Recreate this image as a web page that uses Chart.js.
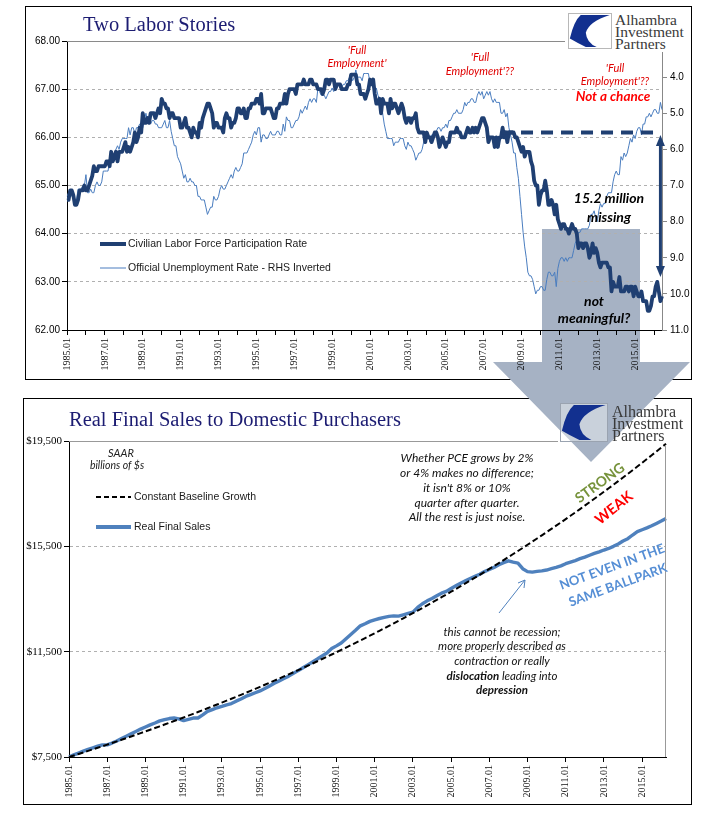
<!DOCTYPE html>
<html>
<head>
<meta charset="utf-8">
<script src="https://cdn.jsdelivr.net/npm/chart.js@4.4.1/dist/chart.umd.min.js"></script>
<style>
  body { margin: 0; background: #fff; width: 705px; height: 817px; position: relative; overflow: hidden; }
  .frame { position: absolute; border: 1.5px solid #000; box-sizing: border-box; z-index: 0; }
  #bigArrow { position: absolute; left: 0; top: 0; z-index: 1; }
  canvas { position: absolute; z-index: 2; }
  .logo { position: absolute; z-index: 3; }
</style>
</head>
<body>
<div class="frame" style="left:25px;top:6px;width:667px;height:374px"></div>
<div class="frame" style="left:23px;top:398px;width:669px;height:407px"></div>

<svg id="bigArrow" width="705" height="817">
  <polygon points="542,229 640,229 640,362 690,362 591,462 493,362 542,362" fill="#a6b2c4"/>
</svg>

<canvas id="labor" width="667" height="374" style="left:25px;top:6px"></canvas>
<canvas id="sales" width="669" height="407" style="left:23px;top:398px"></canvas>

<svg class="logo" style="left:565px;top:9px" width="126" height="43">
  <rect x="0" y="0" width="126" height="43" fill="#fff"/>
  <rect x="3.5" y="4.5" width="43" height="35" fill="#fff" stroke="#b8b8b8"/>
  <svg x="4" y="5" width="42" height="34" viewBox="0 0 100 100" preserveAspectRatio="none">
    <path d="M2,72 Q12,20 28,3 L97,3 Q48,22 40,55 Q42,85 66,97 L40,97 Q20,85 2,72 Z" fill="#12308f"/>
  </svg>
  <g font-family="'Liberation Serif', serif" font-size="15.5" fill="#3a3a3a">
    <text x="50" y="16">Alhambra</text>
    <text x="50" y="28">Investment</text>
    <text x="50" y="40">Partners</text>
  </g>
</svg>

<svg class="logo" style="left:556px;top:400px" width="132" height="46">
  <rect x="4.5" y="3.5" width="47" height="38" fill="rgba(255,255,255,0.4)" stroke="#9aa3b0"/>
  <svg x="5" y="4" width="46" height="37" viewBox="0 0 100 100" preserveAspectRatio="none">
    <path d="M2,72 Q12,20 28,3 L97,3 Q48,22 40,55 Q42,85 66,97 L40,97 Q20,85 2,72 Z" fill="#12308f"/>
  </svg>
  <g font-family="'Liberation Serif', serif" font-size="16" fill="#3a3a3a">
    <text x="56" y="17">Alhambra</text>
    <text x="56" y="29">Investment</text>
    <text x="56" y="41">Partners</text>
  </g>
</svg>

<script>
// ---- Two Labor Stories: monthly 1985.01 - 2016.06 ----
const lfpr = [
  64.7, 64.7, 64.9, 64.9, 64.8, 64.6, 64.6, 64.7, 64.9, 64.9, 64.9, 65.0,
  64.9, 64.9, 65.0, 65.1, 65.2, 65.4, 65.3, 65.3, 65.4, 65.4, 65.4, 65.4,
  65.4, 65.5, 65.5, 65.4, 65.7, 65.5, 65.6, 65.7, 65.5, 65.7, 65.7, 65.7,
  65.8, 65.9, 65.7, 65.8, 65.7, 65.8, 65.9, 66.1, 65.9, 66.0, 66.2, 66.1,
  66.5, 66.3, 66.3, 66.4, 66.3, 66.5, 66.5, 66.5, 66.4, 66.5, 66.6, 66.5,
  66.8, 66.7, 66.7, 66.6, 66.6, 66.4, 66.5, 66.5, 66.4, 66.4, 66.4, 66.4,
  66.2, 66.2, 66.3, 66.4, 66.2, 66.2, 66.1, 66.0, 66.2, 66.1, 66.1, 66.0,
  66.3, 66.2, 66.4, 66.5, 66.6, 66.7, 66.7, 66.6, 66.5, 66.2, 66.3, 66.3,
  66.2, 66.2, 66.2, 66.1, 66.4, 66.5, 66.4, 66.4, 66.2, 66.3, 66.3, 66.4,
  66.6, 66.6, 66.5, 66.5, 66.6, 66.4, 66.4, 66.6, 66.6, 66.7, 66.7, 66.7,
  66.8, 66.8, 66.7, 66.9, 66.5, 66.5, 66.6, 66.6, 66.6, 66.6, 66.5, 66.4,
  66.4, 66.6, 66.6, 66.7, 66.7, 66.7, 66.9, 66.7, 66.9, 67.0, 67.0, 67.0,
  67.0, 66.9, 67.1, 67.1, 67.1, 67.1, 67.2, 67.1, 67.1, 67.1, 67.2, 67.2,
  67.1, 67.1, 67.1, 67.0, 67.0, 67.0, 66.9, 67.0, 67.2, 67.2, 67.1, 67.2,
  67.2, 67.2, 67.0, 67.1, 67.1, 67.1, 67.0, 67.0, 67.0, 67.0, 67.1, 67.1,
  67.3, 67.3, 67.3, 67.3, 67.1, 67.1, 66.9, 66.9, 66.9, 66.8, 66.9, 67.0,
  67.2, 67.1, 67.2, 66.9, 66.7, 66.7, 66.8, 66.5, 66.8, 66.7, 66.7, 66.7,
  66.5, 66.8, 66.6, 66.7, 66.7, 66.6, 66.5, 66.6, 66.7, 66.6, 66.4, 66.3,
  66.4, 66.4, 66.3, 66.4, 66.4, 66.5, 66.2, 66.1, 66.1, 66.1, 66.1, 65.9,
  66.1, 66.0, 66.0, 65.9, 66.0, 66.1, 66.1, 66.0, 65.8, 65.9, 66.0, 65.9,
  65.8, 65.9, 65.9, 66.1, 66.1, 66.1, 66.1, 66.2, 66.1, 66.1, 66.0, 66.0,
  66.0, 66.1, 66.2, 66.1, 66.1, 66.2, 66.1, 66.2, 66.1, 66.2, 66.3, 66.4,
  66.4, 66.3, 66.2, 65.9, 66.0, 66.0, 66.0, 65.8, 66.0, 65.8, 66.0, 66.0,
  66.2, 66.0, 66.1, 65.9, 66.1, 66.1, 66.1, 66.1, 66.0, 66.0, 65.9, 65.8,
  65.7, 65.8, 65.6, 65.7, 65.7, 65.7, 65.5, 65.4, 65.1, 65.0, 65.0, 64.6,
  64.8, 64.9, 64.9, 65.1, 64.9, 64.6, 64.6, 64.7, 64.6, 64.4, 64.6, 64.3,
  64.2, 64.1, 64.2, 64.2, 64.1, 64.1, 64.0, 64.1, 64.2, 64.1, 64.1, 64.0,
  63.7, 63.8, 63.8, 63.7, 63.8, 63.8, 63.7, 63.5, 63.6, 63.8, 63.6, 63.7,
  63.6, 63.4, 63.3, 63.4, 63.4, 63.4, 63.4, 63.3, 63.3, 62.8, 63.0, 62.9,
  62.9, 62.9, 63.1, 62.8, 62.8, 62.8, 62.9, 62.9, 62.8, 62.9, 62.9, 62.7,
  62.9, 62.8, 62.7, 62.7, 62.8, 62.6, 62.6, 62.6, 62.4, 62.4, 62.5, 62.7,
  62.7, 62.9, 63.0, 62.8, 62.6, 62.7
];

const unrate = [
  7.3, 7.2, 7.2, 7.3, 7.2, 7.4, 7.4, 7.1, 7.1, 7.1, 7.0, 7.0,
  6.7, 7.2, 7.2, 7.1, 7.2, 7.2, 7.0, 6.9, 7.0, 7.0, 6.9, 6.6,
  6.6, 6.6, 6.6, 6.3, 6.3, 6.2, 6.1, 6.0, 5.9, 6.0, 5.8, 5.7,
  5.7, 5.7, 5.7, 5.4, 5.6, 5.4, 5.4, 5.6, 5.4, 5.4, 5.3, 5.3,
  5.4, 5.2, 5.0, 5.2, 5.2, 5.3, 5.2, 5.2, 5.3, 5.3, 5.4, 5.4,
  5.4, 5.3, 5.2, 5.4, 5.4, 5.2, 5.5, 5.7, 5.9, 5.9, 6.2, 6.3,
  6.4, 6.6, 6.8, 6.7, 6.9, 6.9, 6.8, 6.9, 6.9, 7.0, 7.0, 7.3,
  7.3, 7.4, 7.4, 7.4, 7.6, 7.8, 7.7, 7.6, 7.6, 7.3, 7.4, 7.4,
  7.3, 7.1, 7.0, 7.1, 7.1, 7.0, 6.9, 6.8, 6.7, 6.8, 6.6, 6.5,
  6.6, 6.6, 6.5, 6.4, 6.1, 6.1, 6.1, 6.0, 5.9, 5.8, 5.6, 5.5,
  5.6, 5.4, 5.4, 5.8, 5.6, 5.6, 5.7, 5.7, 5.6, 5.5, 5.6, 5.6,
  5.6, 5.5, 5.5, 5.6, 5.6, 5.3, 5.5, 5.1, 5.2, 5.2, 5.4, 5.4,
  5.3, 5.2, 5.2, 5.1, 4.9, 5.0, 4.9, 4.8, 4.9, 4.7, 4.6, 4.7,
  4.6, 4.6, 4.7, 4.3, 4.4, 4.5, 4.5, 4.5, 4.6, 4.5, 4.4, 4.4,
  4.3, 4.4, 4.2, 4.3, 4.2, 4.3, 4.3, 4.2, 4.2, 4.1, 4.1, 4.0,
  4.0, 4.1, 4.0, 3.8, 4.0, 4.0, 4.0, 4.1, 3.9, 3.9, 3.9, 3.9,
  4.2, 4.2, 4.3, 4.4, 4.3, 4.5, 4.6, 4.9, 5.0, 5.3, 5.5, 5.7,
  5.7, 5.7, 5.7, 5.9, 5.8, 5.8, 5.8, 5.7, 5.7, 5.7, 5.9, 6.0,
  5.8, 5.9, 5.9, 6.0, 6.1, 6.3, 6.2, 6.1, 6.1, 6.0, 5.8, 5.7,
  5.7, 5.6, 5.8, 5.6, 5.6, 5.6, 5.5, 5.4, 5.4, 5.5, 5.4, 5.4,
  5.3, 5.4, 5.2, 5.2, 5.1, 5.0, 5.0, 4.9, 5.0, 5.0, 5.0, 4.9,
  4.7, 4.8, 4.7, 4.7, 4.6, 4.6, 4.7, 4.7, 4.5, 4.4, 4.5, 4.4,
  4.6, 4.5, 4.4, 4.5, 4.4, 4.6, 4.7, 4.6, 4.7, 4.7, 4.7, 5.0,
  5.0, 4.9, 5.1, 5.0, 5.4, 5.6, 5.8, 6.1, 6.1, 6.5, 6.8, 7.3,
  7.8, 8.3, 8.7, 9.0, 9.4, 9.5, 9.5, 9.6, 9.8, 10.0, 9.9, 9.9,
  9.8, 9.8, 9.9, 9.9, 9.6, 9.4, 9.4, 9.5, 9.5, 9.4, 9.8, 9.3,
  9.1, 9.0, 9.0, 9.1, 9.0, 9.1, 9.0, 9.0, 9.0, 8.8, 8.6, 8.5,
  8.3, 8.3, 8.2, 8.2, 8.2, 8.2, 8.2, 8.1, 7.8, 7.8, 7.7, 7.9,
  8.0, 7.7, 7.5, 7.6, 7.5, 7.5, 7.3, 7.2, 7.2, 7.2, 6.9, 6.7,
  6.6, 6.7, 6.7, 6.2, 6.3, 6.1, 6.2, 6.1, 5.9, 5.7, 5.8, 5.6,
  5.7, 5.5, 5.4, 5.4, 5.6, 5.3, 5.3, 5.1, 5.1, 5.0, 5.1, 5.0,
  4.9, 4.9, 5.0, 5.0, 4.7, 4.9
];

const laborXTicks = ['1985.01', '1987.01', '1989.01', '1991.01', '1993.01', '1995.01', '1997.01', '1999.01',
  '2001.01', '2003.01', '2005.01', '2007.01', '2009.01', '2011.01', '2013.01', '2015.01'];
const lfprTicks = [62, 63, 64, 65, 66, 67, 68];
const unrateTicks = [4, 5, 6, 7, 8, 9, 10, 11];

// ---- Real Final Sales: quarterly 1985.01 - 2016.02, billions ----
const realSales = [
  7500, 7580, 7650, 7720,   7790, 7850, 7910, 7960,   7960, 8030, 8110, 8200,
  8290, 8380, 8470, 8560,   8640, 8720, 8790, 8870,   8920, 8960, 8980, 8950,
  8880, 8930, 8980, 8980,   9100, 9230, 9300, 9370,   9420, 9480, 9530, 9620,
  9700, 9800, 9870, 9940,   10010, 10100, 10200, 10300, 10390, 10480, 10570, 10680,
  10780, 10890, 11000, 11110, 11220, 11340, 11450, 11620, 11720, 11830, 11990, 12150,
  12310, 12480, 12560, 12650, 12710, 12760, 12800, 12840, 12860, 12850, 12900, 12950,
  13000, 13180, 13320, 13430, 13520, 13620, 13720, 13790, 13900, 14000, 14100, 14190,
  14280, 14360, 14440, 14540, 14620, 14700, 14800, 14880, 14950, 14900, 14860, 14650,
  14540, 14520, 14550, 14570, 14600, 14650, 14700, 14760, 14840, 14900, 14960, 15030,
  15090, 15160, 15230, 15290, 15360, 15420, 15500, 15590, 15700, 15790, 15930, 16060,
  16130, 16200, 16280, 16370, 16460, 16560
];

const baseline = [
  7500, 7557, 7615, 7672,   7732, 7791, 7850, 7910,   7970, 8031, 8092, 8153,
  8217, 8279, 8342, 8406,   8470, 8534, 8600, 8665,   8732, 8798, 8865, 8933,
  9001, 9069, 9138, 9208,   9279, 9350, 9421, 9492,   9566, 9639, 9712, 9786,
  9861, 9936, 10012, 10088, 10165, 10242, 10320, 10399, 10479, 10559, 10639, 10720,
  10802, 10884, 10967, 11050, 11136, 11221, 11306, 11392, 11480, 11567, 11655, 11744,
  11834, 11924, 12015, 12106, 12199, 12292, 12385, 12479, 12576, 12672, 12768, 12865,
  12964, 13063, 13162, 13262, 13364, 13466, 13568, 13671, 13777, 13882, 13987, 14094,
  14202, 14310, 14419, 14528, 14641, 14752, 14865, 14978, 15093, 15208, 15323, 15440,
  15559, 15677, 15797, 15917, 16039, 16161, 16284, 16408, 16534, 16660, 16786, 16914,
  17045, 17175, 17305, 17437, 17571, 17705, 17839, 17975, 18113, 18251, 18389, 18529,
  18673, 18815, 18958, 19102, 19249, 19395
];

const salesXTicks = laborXTicks;
const salesYTicks = [7500, 11500, 15500, 19500];

// category labels
const laborMonths = [];
for (let i = 0; i < lfpr.length; i++) {
  laborMonths.push((1985 + Math.floor(i / 12)) + '.' + String(i % 12 + 1).padStart(2, '0'));
}
const salesQuarters = [];
for (let i = 0; i < realSales.length; i++) {
  salesQuarters.push((1985 + Math.floor(i / 4)) + '.0' + (i % 4 + 1));
}

const NAVY = '#1f3f72';
const SANS = "'Liberation Sans', Arial, sans-serif";
const SERIF = "'Liberation Serif', 'Times New Roman', serif";

function say(ctx, s, x, y, font, color, align, angle) {
  ctx.save();
  ctx.font = font;
  ctx.fillStyle = color;
  ctx.textAlign = align || 'center';
  ctx.textBaseline = 'middle';
  ctx.translate(x, y);
  if (angle) ctx.rotate(angle * Math.PI / 180);
  ctx.fillText(s, 0, 0);
  ctx.restore();
}

function seg(ctx, x1, y1, x2, y2, color, width, dash) {
  ctx.save();
  ctx.strokeStyle = color;
  ctx.lineWidth = width;
  ctx.setLineDash(dash || []);
  ctx.beginPath();
  ctx.moveTo(x1, y1);
  ctx.lineTo(x2, y2);
  ctx.stroke();
  ctx.restore();
}

// annotation anchors on the labor chart (in data units)
const gapLine = { from: 275, to: 375, level: 66.1 };
const gapArrow = { index: 376, top: 66.05, bottom: 63.1 };

const laborNotes = {
  id: 'laborNotes',
  afterDatasetsDraw(chart) {
    const ctx = chart.ctx, xs = chart.scales.x, ys = chart.scales.y;
    const area = chart.chartArea;
    // plot border at top
    seg(ctx, area.left, area.top + 0.5, area.right, area.top + 0.5, '#8a8a8a', 1);
    // dashed 'before' level
    seg(ctx, xs.getPixelForValue(gapLine.from), ys.getPixelForValue(gapLine.level),
      xs.getPixelForValue(gapLine.to), ys.getPixelForValue(gapLine.level), NAVY, 4, [12, 8]);
    // double headed arrow
    const ax = xs.getPixelForValue(gapArrow.index);
    const t = ys.getPixelForValue(gapArrow.top), b = ys.getPixelForValue(gapArrow.bottom);
    seg(ctx, ax, t + 8, ax, b - 8, NAVY, 3);
    ctx.save();
    ctx.fillStyle = NAVY;
    ctx.beginPath(); ctx.moveTo(ax, t); ctx.lineTo(ax - 4.5, t + 11); ctx.lineTo(ax + 4.5, t + 11); ctx.fill();
    ctx.beginPath(); ctx.moveTo(ax, b); ctx.lineTo(ax - 4.5, b - 11); ctx.lineTo(ax + 4.5, b - 11); ctx.fill();
    ctx.restore();
  },
  afterDraw(chart) {
    const ctx = chart.ctx;
    ctx.save();
    ctx.translate(-25, -6); // page coordinates
    ctx.font = '20.5px ' + SERIF;
    ctx.fillStyle = '#1c1c72';
    ctx.textAlign = 'left';
    ctx.textBaseline = 'alphabetic';
    ctx.fillText('Two Labor Stories', 83, 31);

    // legend
    seg(ctx, 100, 244, 126, 244, NAVY, 4);
    say(ctx, 'Civilian Labor Force Participation Rate', 128, 244, '10.5px ' + SANS, '#1a1a1a', 'left');
    seg(ctx, 100, 268, 126, 268, '#4a7dbf', 1);
    say(ctx, 'Official Unemployment Rate - RHS Inverted', 128, 268, '10.5px ' + SANS, '#1a1a1a', 'left');

    const it = 'italic 11px Lato, sans-serif';
    const red = '#e00000';
    say(ctx, "'Full", 357, 50, it, red);
    say(ctx, "Employment'", 357, 63, it, red);
    say(ctx, "'Full", 480, 57, it, red);
    say(ctx, "Employment'??", 480, 71, it, red);
    say(ctx, "'Full", 615, 68, it, red);
    say(ctx, "Employment'??", 615, 81, it, red);
    say(ctx, 'Not a chance', 613, 97, 'bold italic 13.5px Lato, sans-serif', '#ff0000');

    const bi = 'bold italic 14px Lato, sans-serif';
    say(ctx, '15.2 million', 609, 198, bi, '#000');
    say(ctx, 'missing', 609, 217, bi, '#000');
    say(ctx, 'not', 594, 301, bi, '#000');
    say(ctx, 'meaningful?', 594, 318, bi, '#000');
    ctx.restore();
  }
};

const salesNotes = {
  id: 'salesNotes',
  afterDatasetsDraw(chart) {
    const ctx = chart.ctx, area = chart.chartArea;
    ctx.save();
    ctx.translate(-23, -398);
    seg(ctx, area.left + 23, area.top + 398.5, 558, area.top + 398.5, '#999', 1);
    seg(ctx, area.right + 23 - 0.5, 445, area.right + 23 - 0.5, area.bottom + 398, '#999', 1);
    ctx.restore();
  },
  afterDraw(chart) {
    const ctx = chart.ctx;
    ctx.save();
    ctx.translate(-23, -398);
    ctx.font = '20.5px ' + SERIF;
    ctx.fillStyle = '#1c1c72';
    ctx.textAlign = 'left';
    ctx.textBaseline = 'alphabetic';
    ctx.fillText('Real Final Sales to Domestic Purchasers', 69, 426);

    say(ctx, 'SAAR', 121, 453, 'italic 11px Lato, sans-serif', '#222');
    say(ctx, 'billions of $s', 117, 466, 'italic 10.5px Lato, sans-serif', '#222');

    seg(ctx, 96, 497, 131, 497, '#000', 2, [5, 3]);
    say(ctx, 'Constant Baseline Growth', 134, 497, '10.5px ' + SANS, '#1a1a1a', 'left');
    seg(ctx, 96, 527, 131, 527, '#4f81bd', 4);
    say(ctx, 'Real Final Sales', 134, 527, '10.5px ' + SANS, '#1a1a1a', 'left');

    const it = 'italic 12px Lato, sans-serif';
    say(ctx, 'Whether PCE grows by 2%', 467, 458, it, '#111');
    say(ctx, 'or 4% makes no difference;', 467, 473, it, '#111');
    say(ctx, "it isn't 8% or 10%", 467, 488, it, '#111');
    say(ctx, 'quarter after quarter.', 467, 503, it, '#111');
    say(ctx, 'All the rest is just noise.', 467, 517, it, '#111');

    say(ctx, 'STRONG', 600, 483, 'bold 14px Lato, sans-serif', '#77933c', 'center', -36);
    say(ctx, 'WEAK', 614, 508, 'bold 14.5px Lato, sans-serif', '#ff0000', 'center', -39);
    say(ctx, 'NOT EVEN IN THE', 612, 567, 'bold 13px Lato, sans-serif', '#558ed5', 'center', -20);
    say(ctx, 'SAME BALLPARK', 618, 585, 'bold 13px Lato, sans-serif', '#558ed5', 'center', -20);

    // small pointer
    seg(ctx, 499, 613, 525, 580, '#4f81bd', 1);
    seg(ctx, 525, 580, 518, 583, '#4f81bd', 1);
    seg(ctx, 525, 580, 524, 588, '#4f81bd', 1);

    const it2 = 'italic 11.5px Lato, sans-serif';
    const bi2 = 'bold italic 11.5px Lato, sans-serif';
    say(ctx, 'this cannot be recession;', 502, 632, it2, '#111');
    say(ctx, 'more properly described as', 502, 646, it2, '#111');
    say(ctx, 'contraction or really', 502, 661, it2, '#111');
    ctx.font = bi2;
    const w1 = ctx.measureText('dislocation').width;
    ctx.font = it2;
    const w2 = ctx.measureText(' leading into').width;
    const x0 = 502 - (w1 + w2) / 2;
    say(ctx, 'dislocation', x0, 676, bi2, '#111', 'left');
    say(ctx, ' leading into', x0 + w1, 676, it2, '#111', 'left');
    say(ctx, 'depression', 502, 690, bi2, '#111');
    ctx.restore();
  }
};

new Chart(document.getElementById('labor'), {
  type: 'line',
  data: {
    labels: laborMonths,
    datasets: [
      { label: 'Civilian Labor Force Participation Rate', data: lfpr, yAxisID: 'y',
        borderColor: NAVY, borderWidth: 3.8, pointRadius: 0, tension: 0, borderJoinStyle: 'round' },
      { label: 'Official Unemployment Rate - RHS Inverted', data: unrate, yAxisID: 'y2',
        borderColor: '#4a7dbf', borderWidth: 1, pointRadius: 0, tension: 0 }
    ]
  },
  options: {
    responsive: false,
    animation: false,
    events: [],
    layout: { padding: { top: 35, left: 0, right: 0, bottom: 0 } },
    plugins: { legend: { display: false }, tooltip: { enabled: false } },
    scales: {
      x: {
        type: 'category',
        offset: false,
        afterBuildTicks: s => { s.ticks = s.ticks.filter(t => laborMonths[t.value].endsWith('.01')); },
        afterFit: s => { s.height = 50; },
        grid: { drawOnChartArea: false, tickLength: 5, tickColor: '#000' },
        border: { color: '#000', width: 1 },
        ticks: {
          autoSkip: false, minRotation: 90, maxRotation: 90, padding: 3, color: '#111',
          font: { family: SERIF, size: 10 },
          callback: v => (laborXTicks.includes(laborMonths[v]) ? laborMonths[v] : '')
        }
      },
      y: {
        position: 'left', min: 62, max: 68,
        afterBuildTicks: s => { s.ticks = lfprTicks.map(v => ({ value: v })); },
        afterFit: s => { s.width = 42; },
        grid: {
          color: c => (c.tick && (c.tick.value === 62 || c.tick.value === 68)) ? 'rgba(0,0,0,0)' : '#b0b0b0',
          lineWidth: 1, tickLength: 5, tickColor: '#000'
        },
        border: { color: '#000', width: 1, dash: [3, 3] },
        ticks: { padding: 2, color: '#000', font: { family: SANS, size: 10 }, callback: v => Number(v).toFixed(2) }
      },
      y2: {
        position: 'right', reverse: true, min: 3, max: 11,
        afterBuildTicks: s => { s.ticks = unrateTicks.map(v => ({ value: v })); },
        afterFit: s => { s.width = 30; },
        grid: { drawOnChartArea: false, tickLength: 5, tickColor: '#888' },
        border: { color: '#888', width: 1 },
        ticks: { padding: 3, color: '#000', font: { family: SANS, size: 10 }, callback: v => Number(v).toFixed(1) }
      }
    }
  },
  plugins: [laborNotes]
});

new Chart(document.getElementById('sales'), {
  type: 'line',
  data: {
    labels: salesQuarters,
    datasets: [
      { label: 'Constant Baseline Growth', data: baseline, borderColor: '#000', borderWidth: 2,
        borderDash: [6, 3], pointRadius: 0, tension: 0 },
      { label: 'Real Final Sales', data: realSales, borderColor: '#4f81bd', borderWidth: 3.4,
        pointRadius: 0, tension: 0, borderJoinStyle: 'round' }
    ]
  },
  options: {
    responsive: false,
    animation: false,
    events: [],
    layout: { padding: { top: 43, left: 0, right: 26, bottom: 0 } },
    plugins: { legend: { display: false }, tooltip: { enabled: false } },
    scales: {
      x: {
        type: 'category',
        offset: false,
        afterBuildTicks: s => { s.ticks = s.ticks.filter(t => salesXTicks.includes(salesQuarters[t.value])); },
        afterFit: s => { s.height = 48; },
        grid: { drawOnChartArea: false, tickLength: 5, tickColor: '#000' },
        border: { color: '#000', width: 1 },
        ticks: {
          autoSkip: false, minRotation: 90, maxRotation: 90, padding: 3, color: '#111',
          font: { family: SERIF, size: 10 },
          callback: v => salesQuarters[v]
        }
      },
      y: {
        position: 'left', min: 7500, max: 19500,
        afterBuildTicks: s => { s.ticks = salesYTicks.map(v => ({ value: v })); },
        afterFit: s => { s.width = 46; },
        grid: {
          color: c => (c.tick && (c.tick.value === 7500 || c.tick.value === 19500)) ? 'rgba(0,0,0,0)' : '#b0b0b0',
          lineWidth: 1, tickLength: 5, tickColor: '#000'
        },
        border: { color: '#000', width: 1, dash: [3, 3] },
        ticks: { padding: 2, color: '#000', font: { family: SERIF, size: 11 },
          callback: v => '$' + Number(v).toLocaleString('en-US') }
      }
    }
  },
  plugins: [salesNotes]
});
</script>
</body>
</html>
